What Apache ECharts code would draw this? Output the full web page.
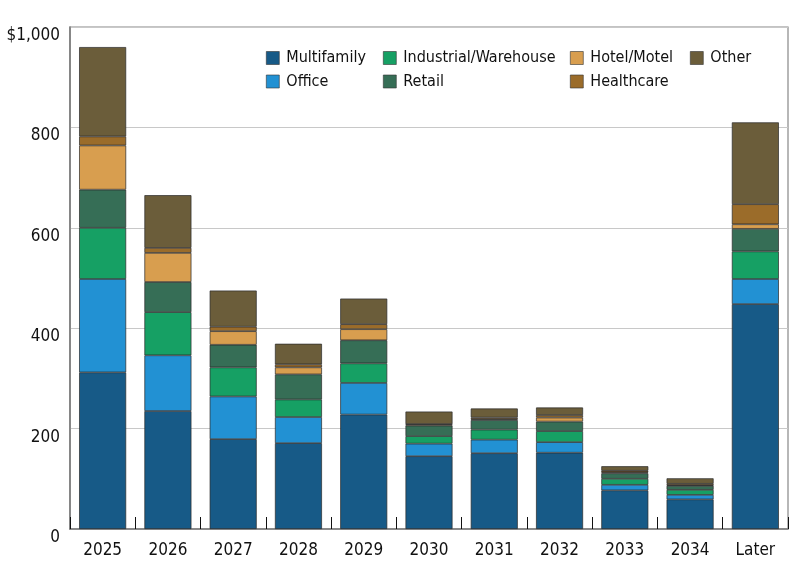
<!DOCTYPE html>
<html>
<head>
<meta charset="utf-8">
<script src="https://cdn.jsdelivr.net/npm/echarts@6/dist/echarts.min.js"></script>
<style>html,body{margin:0;padding:0;background:#fff;}#c{width:800px;height:588px;}</style>
</head>
<body>
<div id="c"></div>
<script>
var categories = ['2025','2026','2027','2028','2029','2030','2031','2032','2033','2034','Later'];
var multifamily = [312,235,179,171,228,145,151,152,77,59,448];
var office      = [186,111,85,52,63,25,27,21,11,9,50];
var industrial  = [102,86,58,35,39,15,20,22,12,10,55];
var retail      = [76,60,45,50,46,21,19,19,11,8,45];
var hotel       = [88,58,27,14,22,2,2,8,2,1,9];
var healthcare  = [18,10,9,6,10,1,3,5,3,3,40];
var other       = [178,105,72,41,51,25,18,15,9,11,163];
var yTicks = [0,200,400,600,800,1000];
var yTickLabels = ['0','200','400','600','800','$1,000'];

var FONT = '"DejaVu Sans Condensed", "Liberation Sans", sans-serif';
var seriesDefs = [
  {name:'Multifamily', data:multifamily, color:'#175a87'},
  {name:'Office', data:office, color:'#2291d3'},
  {name:'Industrial/Warehouse', data:industrial, color:'#16a064'},
  {name:'Retail', data:retail, color:'#366e56'},
  {name:'Hotel/Motel', data:hotel, color:'#d89e4f'},
  {name:'Healthcare', data:healthcare, color:'#9b6c2a'},
  {name:'Other', data:other, color:'#6b5d3a'}
];
var chart = echarts.init(document.getElementById('c'), null, {renderer:'canvas'});
function legendCol(names, left) {
  return {
    orient:'vertical', left:left, top:45, itemWidth:13, itemHeight:13, itemGap:7.5,
    data:names, selectedMode:false, icon:'rect',
    textStyle:{fontFamily:FONT, fontSize:16, color:'#111', padding:[0,0,0,2]},
    itemStyle:{borderColor:'#333', borderWidth:0.6}
  };
}
chart.setOption({
  animation:false,
  color: seriesDefs.map(function(s){return s.color;}),
  legend:[
    legendCol(['Multifamily','Office'], 261),
    legendCol(['Industrial/Warehouse','Retail'], 378),
    legendCol(['Hotel/Motel','Healthcare'], 565),
    legendCol(['Other'], 685)
  ],
  grid:{left:70, right:12, top:27, bottom:59, show:true, borderColor:'#888', borderWidth:1.2, containLabel:false},
  xAxis:{
    type:'category', data:categories,
    axisLine:{lineStyle:{color:'#777', width:1.5}},
    axisTick:{show:true, inside:true, length:12, lineStyle:{color:'#111', width:1}},
    axisLabel:{fontFamily:FONT, fontSize:17, color:'#111', margin:13}
  },
  yAxis:{
    type:'value', min:0, max:1000, interval:200,
    axisLine:{show:true, lineStyle:{color:'#777', width:1.5}},
    axisTick:{show:false},
    splitLine:{lineStyle:{color:'#c8c8c8', width:1}},
    axisLabel:{fontFamily:FONT, fontSize:17, color:'#111', margin:10, verticalAlign:'top', lineHeight:17,
      formatter:function(v){var i=yTicks.indexOf(v); return i>=0?yTickLabels[i]:'';}}
  },
  series: seriesDefs.map(function(s){
    return {name:s.name, type:'bar', stack:'total', data:s.data, barCategoryGap:'28%',
      itemStyle:{color:s.color, borderColor:'#2a2a2a', borderWidth:0.7}};
  })
});
</script>
</body>
</html>
